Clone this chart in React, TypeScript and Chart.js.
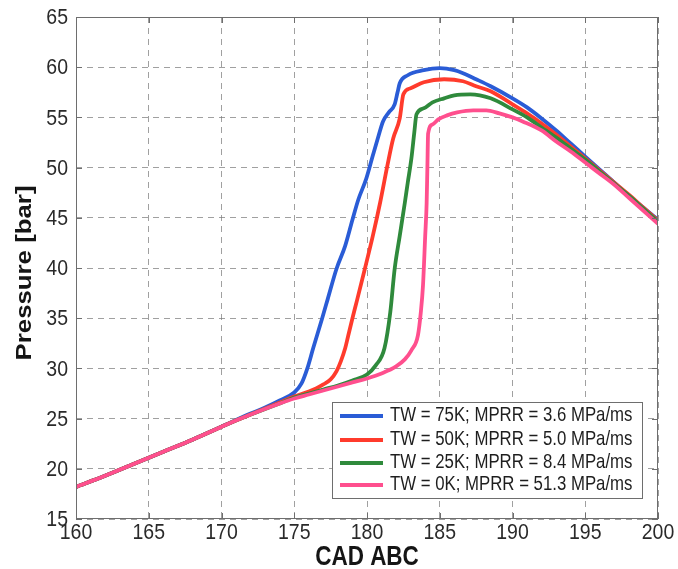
import React, { useEffect, useRef } from "react";
import { Chart, registerables } from "chart.js";

Chart.register(...registerables);

const xTickLabels = ["160", "165", "170", "175", "180", "185", "190", "195", "200"];
const yTickLabels = ["15", "20", "25", "30", "35", "40", "45", "50", "55", "60", "65"];
const xTitle = "CAD ABC";
const yTitle = "Pressure [bar]";

const seriesLabels = [
  "TW = 75K; MPRR = 3.6 MPa/ms",
  "TW = 50K; MPRR = 5.0 MPa/ms",
  "TW = 25K; MPRR = 8.4 MPa/ms",
  "TW = 0K; MPRR = 51.3 MPa/ms",
];
const seriesColors = ["#2a5cd6", "#ff3b2c", "#2f8a3c", "#ff4f8e"];

const cadTW75 = [160, 162, 164, 166, 168, 170, 172, 173, 174, 175, 175.5, 175.9, 176.3, 176.9, 177.3, 177.9, 178.5, 179.0, 179.4, 179.95, 180.4, 180.8, 181.1, 181.5, 181.9, 182.1, 182.25, 182.8, 183.9, 185.0, 186.0, 186.6, 187.5, 188.5, 190.0, 191, 192, 193, 194, 195, 196, 197, 198, 199, 200];
const pTW75 = [18.2, 19.3, 20.5, 21.7, 22.9, 24.2, 25.5, 26.1, 26.8, 27.6, 28.5, 30.0, 32.0, 34.9, 36.9, 39.9, 42.2, 44.8, 46.8, 48.9, 51.2, 53.2, 54.6, 55.5, 56.3, 57.5, 58.4, 59.2, 59.7, 59.9, 59.7, 59.4, 58.8, 58.1, 56.9, 56.0, 54.9, 53.7, 52.4, 51.1, 49.8, 48.5, 47.2, 46.0, 44.8];

const cadTW50 = [160, 162, 164, 166, 168, 170, 172, 174, 175, 176, 176.5, 177, 177.5, 177.9, 178.2, 178.5, 178.7, 179.0, 179.3, 179.85, 180.4, 180.9, 181.4, 181.8, 182.25, 182.5, 183, 183.9, 185.3, 186.6, 187.5, 188.5, 190, 191, 192, 193, 194, 195, 196, 197, 198, 199, 200];
const pTW50 = [18.2, 19.3, 20.5, 21.7, 22.9, 24.2, 25.4, 26.6, 27.2, 27.7, 28.0, 28.4, 28.9, 29.7, 30.7, 32.0, 33.2, 35.0, 36.7, 39.9, 43.2, 46.5, 50.2, 52.9, 54.9, 57.3, 57.9, 58.5, 58.8, 58.6, 58.1, 57.6, 56.3, 55.4, 54.4, 53.3, 52.1, 50.9, 49.7, 48.5, 47.3, 46.0, 44.7];

const cadTW25 = [160, 162, 164, 166, 168, 170, 172, 174, 175, 176, 177, 178, 179, 180, 180.6, 181.2, 181.6, 181.9, 182.25, 182.6, 182.8, 183.05, 183.25, 183.4, 183.9, 184.5, 185.3, 186, 187.1, 188.5, 190, 191, 192, 193, 194, 195, 196, 197, 198, 199, 200];
const pTW25 = [18.2, 19.3, 20.5, 21.7, 22.9, 24.2, 25.4, 26.5, 27.1, 27.5, 27.9, 28.3, 28.8, 29.4, 30.3, 32.0, 35.6, 39.9, 43.2, 46.5, 48.5, 50.9, 53.5, 55.3, 55.9, 56.5, 56.9, 57.2, 57.3, 56.9, 55.8, 55.0, 54.0, 53.0, 51.9, 50.8, 49.6, 48.4, 47.2, 45.9, 44.6];

const cadTW0 = [160, 162, 164, 166, 168, 170, 172, 174, 175, 176, 177, 178, 179, 180, 181, 182, 182.6, 183.05, 183.5, 183.7, 183.85, 184.0, 184.1, 184.15, 184.2, 184.5, 184.9, 185.5, 186.2, 187.3, 188.2, 189.1, 190, 190.7, 192, 193, 194, 195, 196, 197, 198, 199, 200];
const pTW0 = [18.2, 19.3, 20.5, 21.7, 22.9, 24.2, 25.4, 26.5, 27.0, 27.4, 27.8, 28.2, 28.6, 29.0, 29.5, 30.2, 30.9, 31.8, 33.3, 35.6, 38.3, 43.2, 46.5, 50.0, 53.4, 54.3, 54.8, 55.2, 55.5, 55.7, 55.7, 55.4, 55.0, 54.6, 53.7, 52.6, 51.6, 50.5, 49.4, 48.3, 47.0, 45.7, 44.4];

const seriesCad = [cadTW75, cadTW50, cadTW25, cadTW0];
const seriesP = [pTW75, pTW50, pTW25, pTW0];

const FONT = '"Liberation Sans", Arial, Helvetica, sans-serif';

function stretchedText(
  ctx: CanvasRenderingContext2D,
  text: string,
  x: number,
  y: number,
  font: string,
  align: CanvasTextAlign,
  color: string,
  sy: number,
  rotate = false
) {
  ctx.save();
  ctx.translate(x, y);
  if (rotate) {
    ctx.rotate(-Math.PI / 2);
    ctx.scale(sy, 1);
  } else {
    ctx.scale(1, sy);
  }
  ctx.font = font;
  ctx.textAlign = align;
  ctx.textBaseline = "middle";
  ctx.fillStyle = color;
  ctx.fillText(text, 0, 0);
  ctx.restore();
}

const decorPlugin = {
  id: "decor",
  beforeDraw(chart: any) {
    const ctx = chart.ctx;
    ctx.save();
    ctx.fillStyle = "#ffffff";
    ctx.fillRect(0, 0, chart.width, chart.height);
    ctx.restore();
  },
  afterDraw(chart: any) {
    const ctx: CanvasRenderingContext2D = chart.ctx;
    const { left, right, top, bottom } = chart.chartArea;
    const xs = chart.scales.x;
    const ys = chart.scales.y;

    ctx.save();
    ctx.strokeStyle = "#6e6e6e";
    ctx.lineWidth = 1;
    ctx.setLineDash([]);
    ctx.strokeRect(left + 0.5, top + 0.5, right - left - 1, bottom - top - 1);
    ctx.beginPath();
    xTickLabels.forEach((t) => {
      const px = Math.round(xs.getPixelForValue(Number(t))) + 0.5;
      ctx.moveTo(px, bottom);
      ctx.lineTo(px, bottom - 6);
      ctx.moveTo(px, top);
      ctx.lineTo(px, top + 6);
    });
    yTickLabels.forEach((t) => {
      const py = Math.round(ys.getPixelForValue(Number(t))) + 0.5;
      ctx.moveTo(left, py);
      ctx.lineTo(left + 6, py);
      ctx.moveTo(right, py);
      ctx.lineTo(right - 6, py);
    });
    ctx.stroke();
    ctx.restore();

    const tickFont = `19.5px ${FONT}`;
    xTickLabels.forEach((t) => {
      const px = xs.getPixelForValue(Number(t));
      stretchedText(ctx, t, px, bottom + 14, tickFont, "center", "#2a2a2a", 1.15);
    });
    yTickLabels.forEach((t) => {
      const py = ys.getPixelForValue(Number(t));
      stretchedText(ctx, t, left - 8, py + 1, tickFont, "right", "#2a2a2a", 1.15);
    });

    stretchedText(ctx, xTitle, (left + right) / 2, 558, `bold 22.5px ${FONT}`, "center", "#151515", 1.2);
    stretchedText(ctx, yTitle, 25, 273, `bold 21.5px ${FONT}`, "center", "#151515", 1.2, true);

    const lx0 = 332;
    const ly0 = 402;
    const lw = 310;
    const lh = 96;
    ctx.save();
    ctx.fillStyle = "#ffffff";
    ctx.fillRect(lx0, ly0, lw, lh);
    ctx.strokeStyle = "#6e6e6e";
    ctx.lineWidth = 1;
    ctx.strokeRect(lx0 + 0.5, ly0 + 0.5, lw, lh);
    ctx.restore();
    const rows = [416, 440, 463, 485];
    chart.data.datasets.forEach((ds: any, i: number) => {
      const y = rows[i];
      ctx.save();
      ctx.strokeStyle = ds.borderColor;
      ctx.lineWidth = 4;
      ctx.beginPath();
      ctx.moveTo(340, y);
      ctx.lineTo(383, y);
      ctx.stroke();
      ctx.restore();
      stretchedText(ctx, ds.label, 390, y, `16.8px ${FONT}`, "left", "#1e1e1e", 1.15);
    });
  },
};

export default function App() {
  const canvasRef = useRef<HTMLCanvasElement | null>(null);

  useEffect(() => {
    if (!canvasRef.current) return;
    const datasets = seriesLabels.map((label, i) => ({
      label,
      data: seriesCad[i].map((c, j) => ({ x: c, y: seriesP[i][j] })),
      borderColor: seriesColors[i],
      backgroundColor: seriesColors[i],
      borderWidth: 3.8,
      pointRadius: 0,
      fill: false,
      cubicInterpolationMode: "monotone" as const,
      order: seriesLabels.length - 1 - i,
    }));

    const chart = new Chart(canvasRef.current, {
      type: "line",
      data: { datasets },
      options: {
        animation: false,
        responsive: false,
        maintainAspectRatio: false,
        layout: { padding: { top: 17, right: 20, left: 0, bottom: 0 } },
        plugins: {
          legend: { display: false },
          tooltip: { enabled: false },
          title: { display: false },
        },
        scales: {
          x: {
            type: "linear",
            min: 160,
            max: 200,
            ticks: { stepSize: 5, display: false },
            grid: { color: "rgba(120,120,120,0.7)", lineWidth: 1, drawTicks: false },
            border: { display: false, dash: [6, 5] },
            afterFit: (s: any) => {
              s.height = 50;
            },
          },
          y: {
            type: "linear",
            min: 15,
            max: 65,
            ticks: { stepSize: 5, display: false },
            grid: { color: "rgba(120,120,120,0.7)", lineWidth: 1, drawTicks: false },
            border: { display: false, dash: [6, 5] },
            afterFit: (s: any) => {
              s.width = 76;
            },
          },
        },
      },
      plugins: [decorPlugin],
    });
    return () => chart.destroy();
  }, []);

  return (
    <div style={{ position: "fixed", left: 0, top: 0, width: 678, height: 569, background: "#fff" }}>
      <canvas ref={canvasRef} width={678} height={569} style={{ width: 678, height: 569, display: "block" }} />
    </div>
  );
}
